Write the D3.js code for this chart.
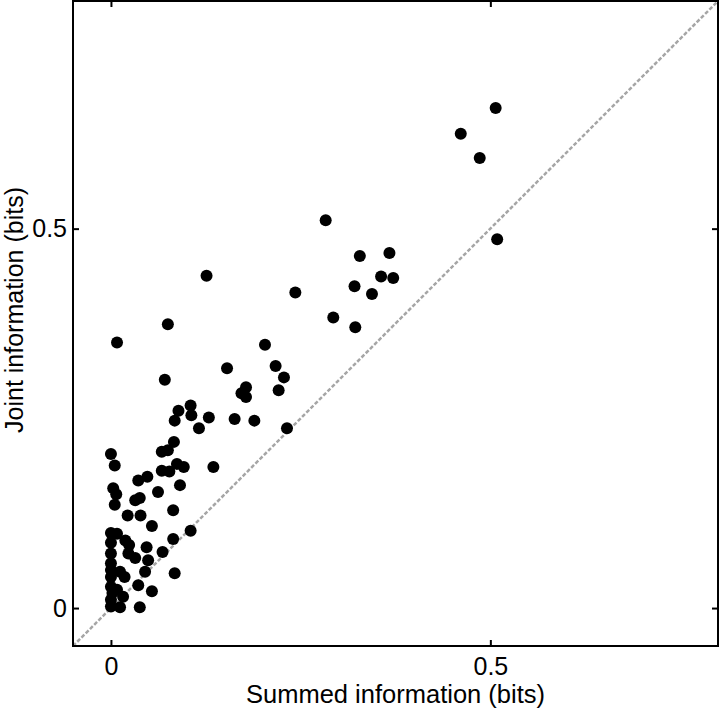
<!DOCTYPE html>
<html>
<head>
<meta charset="utf-8">
<script src="https://cdn.jsdelivr.net/npm/d3@7"></script>
<style>
  html, body { margin: 0; padding: 0; background: #fff; }
  svg { display: block; font-family: "Liberation Sans", Arial, sans-serif; }
</style>
</head>
<body>
<div id="chart"></div>
<script>
// Summed vs joint information, one point per pair (bits)
const summedInfo = [
  0.507, 0.461, 0.486, 0.509,
  0.283, 0.328, 0.367, 0.356, 0.372, 0.321, 0.344, 0.243, 0.293, 0.322, 0.203,
  0.126, 0.075, 0.008, 0.153, 0.217, 0.228, 0.221, 0.071, 0.178, 0.172, 0.178,
  0.105, 0.089, 0.106, 0.129, 0.084, 0.163, 0.189, 0.116, 0.232,
  0.083, 0.075, 0.067, 0.000, 0.005, 0.087, 0.096, 0.067, 0.077, 0.135,
  0.048, 0.036, 0.091, 0.003, 0.007, 0.062, 0.038, 0.032, 0.005, 0.082,
  0.022, 0.039, 0.054, 0.105,
  0.000, 0.008, 0.019, 0.024, 0.082, 0.047, 0.000, 0.000, 0.023, 0.068,
  0.032, 0.049, 0.000, 0.045, 0.012, 0.084, 0.000, 0.018, 0.036, 0.000,
  0.054, 0.008, 0.016, 0.000, 0.000, 0.012, 0.038, 0.000, 0.002
];
const jointInfo = [
  0.659, 0.625, 0.593, 0.486,
  0.511, 0.464, 0.468, 0.437, 0.435, 0.424, 0.414, 0.416, 0.383, 0.370, 0.347,
  0.438, 0.374, 0.350, 0.316, 0.319, 0.304, 0.287, 0.301, 0.291, 0.283, 0.278,
  0.267, 0.260, 0.254, 0.251, 0.247, 0.249, 0.247, 0.237, 0.237,
  0.219, 0.208, 0.206, 0.203, 0.188, 0.190, 0.186, 0.181, 0.180, 0.186,
  0.173, 0.168, 0.162, 0.158, 0.150, 0.153, 0.145, 0.142, 0.136, 0.129,
  0.122, 0.122, 0.108, 0.102,
  0.099, 0.098, 0.089, 0.083, 0.091, 0.080, 0.086, 0.072, 0.072, 0.074,
  0.066, 0.063, 0.059, 0.048, 0.048, 0.046, 0.041, 0.041, 0.030, 0.028,
  0.022, 0.024, 0.015, 0.011, 0.002, 0.001, 0.001, 0.050, 0.020
];
const axisDomain = [-0.05, 0.8];
const tickValues = [0, 0.5];
const tickLabels = ['0', '0.5'];
const xLabel = 'Summed information (bits)';
const yLabel = 'Joint information (bits)';

const width = 720;
const height = 709;
const box = { left: 73, top: 1, right: 718, bottom: 646 };

const svg = d3.select('#chart')
  .append('svg')
  .attr('width', width)
  .attr('height', height);

const x = d3.scaleLinear().domain(axisDomain).range([box.left, box.right]);
const y = d3.scaleLinear().domain(axisDomain).range([box.bottom, box.top]);

const points = summedInfo.map((v, i) => ({ x: v, y: jointInfo[i] }));

// identity line
svg.append('line')
  .attr('x1', x(axisDomain[0]))
  .attr('y1', y(axisDomain[0]))
  .attr('x2', x(axisDomain[1]))
  .attr('y2', y(axisDomain[1]))
  .style('stroke', '#a6a6a6')
  .style('stroke-width', '2.5px')
  .style('stroke-dasharray', '4,2');

// points
svg.append('g')
  .selectAll('circle')
  .data(points)
  .join('circle')
  .attr('cx', d => x(d.x))
  .attr('cy', d => y(d.y))
  .attr('r', 6)
  .style('fill', '#000');

const fmt = (d, i) => tickLabels[i];

// axes, ticks pointing inward
const bottomAxis = svg.append('g')
  .attr('transform', `translate(0,${box.bottom})`)
  .call(d3.axisBottom(x).tickValues(tickValues).tickFormat(fmt)
    .tickSizeInner(-6).tickSizeOuter(0).tickPadding(11));

const leftAxis = svg.append('g')
  .attr('transform', `translate(${box.left},0)`)
  .call(d3.axisLeft(y).tickValues(tickValues).tickFormat(fmt)
    .tickSizeInner(-6).tickSizeOuter(0).tickPadding(6));

const topAxis = svg.append('g')
  .attr('transform', `translate(0,${box.top})`)
  .call(d3.axisTop(x).tickValues(tickValues).tickFormat('')
    .tickSizeInner(-6).tickSizeOuter(0));

const rightAxis = svg.append('g')
  .attr('transform', `translate(${box.right},0)`)
  .call(d3.axisRight(y).tickValues(tickValues).tickFormat('')
    .tickSizeInner(-6).tickSizeOuter(0));

[bottomAxis, leftAxis, topAxis, rightAxis].forEach(g => {
  g.select('.domain').remove();
  g.selectAll('.tick line').style('stroke', '#000').style('stroke-width', '2px');
  g.selectAll('.tick text')
    .style('font-family', '"Liberation Sans", Arial, sans-serif')
    .style('font-size', '25px')
    .style('fill', '#000');
});

// frame
svg.append('rect')
  .attr('x', box.left)
  .attr('y', box.top)
  .attr('width', box.right - box.left)
  .attr('height', box.bottom - box.top)
  .style('fill', 'none')
  .style('stroke', '#000')
  .style('stroke-width', '2px');

// axis labels
svg.append('text')
  .attr('x', (box.left + box.right) / 2)
  .attr('y', 703)
  .attr('text-anchor', 'middle')
  .style('font-size', '25.5px')
  .text(xLabel);

svg.append('text')
  .attr('transform', 'translate(23,310) rotate(-90)')
  .attr('text-anchor', 'middle')
  .style('font-size', '25px')
  .text(yLabel);
</script>
</body>
</html>
